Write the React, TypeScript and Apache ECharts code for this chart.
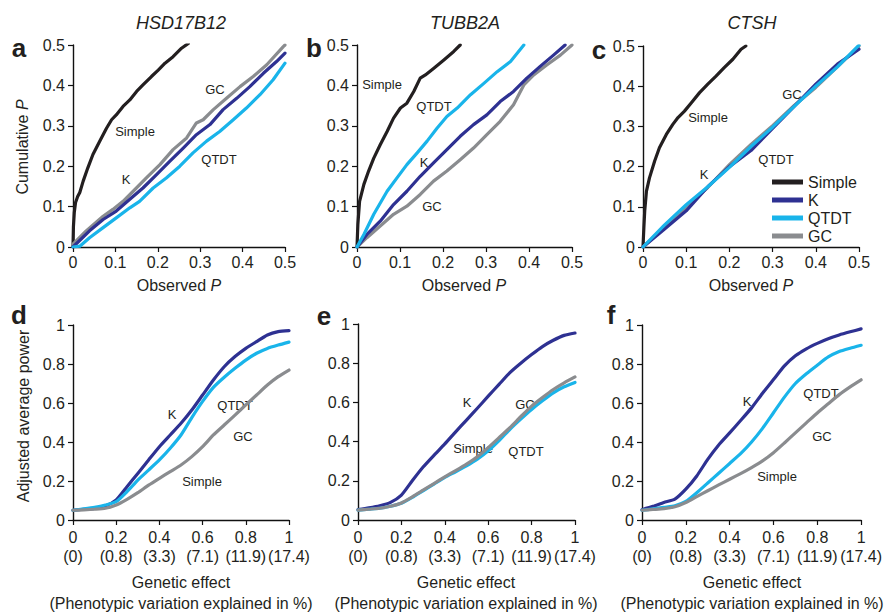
import React, { useEffect, useRef } from 'react';
import * as echarts from 'echarts';

const FONT = '"Liberation Sans", Arial, Helvetica, sans-serif';
const TXT = '#231f20';
const COL_SIMPLE = '#231f20';
const COL_K = '#2e3192';
const COL_QTDT = '#19b4ea';
const COL_GC = '#8a8c8f';

// ---- Panel a (HSD17B12): [observed P, cumulative P]
const aSimple = [[0,0],[0.001,0.05],[0.003,0.085],[0.006,0.11],[0.011,0.125],[0.016,0.135],[0.024,0.163],[0.035,0.196],[0.047,0.229],[0.063,0.262],[0.079,0.294],[0.091,0.315],[0.102,0.327],[0.118,0.348],[0.134,0.364],[0.15,0.385],[0.165,0.401],[0.185,0.422],[0.201,0.438],[0.217,0.455],[0.236,0.471],[0.256,0.492],[0.272,0.504]];
const aK = [[0,0],[0.039,0.04],[0.071,0.068],[0.102,0.089],[0.134,0.118],[0.165,0.146],[0.197,0.179],[0.228,0.212],[0.26,0.245],[0.291,0.278],[0.323,0.303],[0.354,0.34],[0.386,0.368],[0.417,0.397],[0.449,0.43],[0.48,0.459],[0.5,0.48]];
const aQTDT = [[0,0],[0.016,0.002],[0.039,0.023],[0.071,0.048],[0.102,0.072],[0.134,0.097],[0.157,0.113],[0.189,0.146],[0.22,0.171],[0.252,0.2],[0.283,0.233],[0.315,0.262],[0.346,0.286],[0.378,0.315],[0.409,0.344],[0.441,0.377],[0.472,0.414],[0.5,0.455]];
const aGC = [[0,0.007],[0.031,0.04],[0.071,0.076],[0.094,0.093],[0.118,0.113],[0.142,0.138],[0.173,0.171],[0.205,0.204],[0.236,0.241],[0.268,0.27],[0.291,0.307],[0.307,0.315],[0.331,0.34],[0.362,0.368],[0.394,0.397],[0.425,0.422],[0.457,0.451],[0.496,0.496],[0.5,0.5]];

// ---- Panel b (TUBB2A)
const bSimple = [[0,0],[0.002,0.056],[0.006,0.113],[0.016,0.155],[0.027,0.188],[0.039,0.22],[0.054,0.253],[0.07,0.286],[0.085,0.319],[0.101,0.344],[0.116,0.356],[0.132,0.385],[0.147,0.418],[0.159,0.426],[0.178,0.442],[0.202,0.463],[0.225,0.484],[0.24,0.5]];
const bK = [[0,0],[0.023,0.031],[0.054,0.064],[0.085,0.105],[0.116,0.138],[0.147,0.175],[0.178,0.208],[0.209,0.241],[0.24,0.274],[0.271,0.303],[0.302,0.327],[0.333,0.36],[0.364,0.385],[0.395,0.418],[0.426,0.447],[0.457,0.475],[0.484,0.5]];
const bQTDT = [[0,0],[0.016,0.031],[0.039,0.081],[0.07,0.138],[0.093,0.171],[0.116,0.204],[0.14,0.233],[0.163,0.262],[0.186,0.294],[0.209,0.323],[0.233,0.344],[0.264,0.377],[0.295,0.405],[0.326,0.434],[0.357,0.459],[0.388,0.5]];
const bGC = [[0,0],[0.023,0.023],[0.054,0.052],[0.085,0.081],[0.116,0.101],[0.147,0.13],[0.178,0.163],[0.209,0.188],[0.24,0.216],[0.271,0.245],[0.302,0.278],[0.333,0.311],[0.364,0.352],[0.388,0.401],[0.411,0.426],[0.442,0.451],[0.473,0.475],[0.5,0.5]];

// ---- Panel c (CTSH)
const cSimple = [[0,0],[0.002,0.048],[0.004,0.09],[0.008,0.139],[0.015,0.172],[0.027,0.214],[0.038,0.247],[0.054,0.28],[0.069,0.305],[0.081,0.322],[0.096,0.338],[0.112,0.359],[0.131,0.384],[0.15,0.405],[0.169,0.425],[0.188,0.446],[0.208,0.467],[0.227,0.492],[0.238,0.5]];
const cK = [[0,0],[0.05,0.045],[0.1,0.09],[0.15,0.15],[0.2,0.2],[0.25,0.24],[0.3,0.295],[0.35,0.35],[0.4,0.405],[0.45,0.455],[0.5,0.492]];
const cQTDT = [[0,0],[0.05,0.055],[0.1,0.105],[0.15,0.15],[0.2,0.198],[0.25,0.25],[0.3,0.298],[0.35,0.35],[0.4,0.4],[0.45,0.448],[0.5,0.502]];
const cGC = [[0,0],[0.05,0.05],[0.1,0.1],[0.15,0.148],[0.2,0.205],[0.25,0.255],[0.3,0.302],[0.35,0.352],[0.4,0.397],[0.45,0.448],[0.5,0.5]];

// ---- Panels d-f: adjusted average power vs genetic effect
const effect = [0, 0.05, 0.1, 0.15, 0.2, 0.25, 0.3, 0.35, 0.4, 0.45, 0.5, 0.55, 0.6, 0.65, 0.7, 0.75, 0.8, 0.85, 0.9, 0.95, 1];
const dK = [0.05, 0.055, 0.06, 0.072, 0.103, 0.171, 0.239, 0.308, 0.376, 0.436, 0.496, 0.564, 0.641, 0.718, 0.786, 0.838, 0.88, 0.915, 0.949, 0.966, 0.971];
const dQTDT = [0.05, 0.057, 0.065, 0.077, 0.094, 0.145, 0.205, 0.256, 0.308, 0.368, 0.436, 0.525, 0.608, 0.68, 0.732, 0.778, 0.82, 0.855, 0.88, 0.897, 0.912];
const dGC = [0.05, 0.052, 0.055, 0.06, 0.077, 0.106, 0.14, 0.179, 0.214, 0.248, 0.282, 0.325, 0.376, 0.436, 0.487, 0.538, 0.59, 0.641, 0.692, 0.735, 0.769];
const eK = [0.053, 0.062, 0.073, 0.09, 0.127, 0.2, 0.27, 0.33, 0.388, 0.45, 0.51, 0.57, 0.632, 0.692, 0.752, 0.8, 0.844, 0.885, 0.917, 0.942, 0.954];
const eQTDT = [0.05, 0.055, 0.06, 0.07, 0.085, 0.115, 0.149, 0.183, 0.217, 0.246, 0.276, 0.31, 0.353, 0.405, 0.463, 0.515, 0.564, 0.608, 0.649, 0.68, 0.702];
const eGC = [0.05, 0.055, 0.06, 0.07, 0.087, 0.118, 0.152, 0.186, 0.22, 0.252, 0.285, 0.322, 0.369, 0.42, 0.471, 0.527, 0.581, 0.625, 0.666, 0.7, 0.73];
const fK = [0.053, 0.07, 0.09, 0.107, 0.158, 0.226, 0.311, 0.385, 0.447, 0.51, 0.575, 0.65, 0.72, 0.79, 0.842, 0.878, 0.906, 0.93, 0.949, 0.965, 0.98];
const fQTDT = [0.05, 0.057, 0.065, 0.073, 0.095, 0.14, 0.19, 0.24, 0.29, 0.34, 0.4, 0.47, 0.55, 0.63, 0.7, 0.75, 0.794, 0.836, 0.864, 0.881, 0.896];
const fGC = [0.05, 0.054, 0.058, 0.068, 0.09, 0.12, 0.15, 0.18, 0.209, 0.238, 0.269, 0.303, 0.345, 0.395, 0.447, 0.498, 0.549, 0.596, 0.643, 0.683, 0.719];

const effectTicks = ['0', '0.2', '0.4', '0.6', '0.8', '1'];
const phenoTicks = ['(0)', '(0.8)', '(3.3)', '(7.1)', '(11.9)', '(17.4)'];
const genes = ['HSD17B12', 'TUBB2A', 'CTSH'];
const methods = ['Simple', 'K', 'QTDT', 'GC'];

const grids = [
  { left: 73, top: 45, width: 212, height: 202 },
  { left: 357, top: 45, width: 215, height: 202 },
  { left: 643, top: 46, width: 216, height: 201 },
  { left: 73, top: 325, width: 216, height: 195 },
  { left: 358, top: 324, width: 217, height: 196 },
  { left: 642, top: 325, width: 220, height: 195 },
];

function lineSeries(name: string, color: string, idx: number, data: number[][], z: number, smooth: number | boolean = false) {
  return {
    type: 'line', name, xAxisIndex: idx, yAxisIndex: idx, data,
    showSymbol: false, symbol: 'none', color, smooth,
    lineStyle: { color, width: 3.2, join: 'round', cap: 'round' },
    z, silent: true,
  };
}

const axisBase = {
  axisLine: { show: true, onZero: false, lineStyle: { color: '#111', width: 1.4 } },
  axisTick: { show: true, inside: false, length: 5, lineStyle: { color: '#111', width: 1.2 } },
  splitLine: { show: false },
  axisLabel: { color: TXT, fontSize: 16, fontFamily: FONT, margin: 7 },
};

function txt(text: string, x: number, y: number, size: number, extra: any = {}) {
  return {
    type: 'text', x, y, silent: true,
    style: { text, fill: TXT, fontSize: size, fontFamily: FONT, textAlign: 'center', textVerticalAlign: 'middle', ...extra },
  };
}

function richItalicP(prefix: string, x: number, y: number, rot = 0) {
  return {
    type: 'text', x, y, rotation: rot, silent: true,
    style: {
      text: `{n|${prefix}}{i|P}`, fill: TXT, textAlign: 'center', textVerticalAlign: 'middle',
      fontSize: 16, fontFamily: FONT,
      rich: {
        n: { fontSize: 16, fontFamily: FONT, fill: TXT },
        i: { fontSize: 16, fontFamily: FONT, fontStyle: 'italic', fill: TXT },
      },
    },
  };
}

export default function App() {
  const ref = useRef<HTMLDivElement>(null);
  useEffect(() => {
    if (!ref.current) return;
    const chart = echarts.init(ref.current, undefined, { renderer: 'svg' });
    const top = [
      [aSimple, aK, aQTDT, aGC],
      [bSimple, bK, bQTDT, bGC],
      [cSimple, cK, cQTDT, cGC],
    ];
    const bottom = [
      [dK, dQTDT, dGC],
      [eK, eQTDT, eGC],
      [fK, fQTDT, fGC],
    ];
    const series: any[] = [];
    top.forEach((set, i) => {
      series.push(lineSeries(methods[0], COL_SIMPLE, i, set[0], 2));
      series.push(lineSeries(methods[1], COL_K, i, set[1], 3));
      series.push(lineSeries(methods[2], COL_QTDT, i, set[2], 4));
      series.push(lineSeries(methods[3], COL_GC, i, set[3], 2));
    });
    bottom.forEach((set, j) => {
      const i = j + 3;
      series.push(lineSeries(methods[1], COL_K, i, effect.map((x, k) => [x, set[0][k]]), 3, 0.2));
      series.push(lineSeries(methods[2], COL_QTDT, i, effect.map((x, k) => [x, set[1][k]]), 4, 0.2));
      series.push(lineSeries(methods[3], COL_GC, i, effect.map((x, k) => [x, set[2][k]]), 5, 0.2));
    });

    const xAxis: any[] = [];
    const yAxis: any[] = [];
    for (let i = 0; i < 3; i++) {
      xAxis.push({ ...axisBase, type: 'value', gridIndex: i, min: 0, max: 0.5, interval: 0.1,
        axisLabel: { ...axisBase.axisLabel, formatter: (v: number) => String(+v.toFixed(1)) } });
      yAxis.push({ ...axisBase, type: 'value', gridIndex: i, min: 0, max: 0.5, interval: 0.1,
        axisLabel: { ...axisBase.axisLabel, margin: 8, formatter: (v: number) => String(+v.toFixed(1)) } });
    }
    for (let i = 3; i < 6; i++) {
      xAxis.push({ ...axisBase, type: 'value', gridIndex: i, min: 0, max: 1, interval: 0.2,
        axisLabel: { ...axisBase.axisLabel, lineHeight: 19, margin: 8,
          formatter: (v: number) => { const k = Math.round(v / 0.2); return effectTicks[k] + '\n' + phenoTicks[k]; } } });
      yAxis.push({ ...axisBase, type: 'value', gridIndex: i, min: 0, max: 1, interval: 0.2,
        axisLabel: { ...axisBase.axisLabel, margin: 8, formatter: (v: number) => String(+v.toFixed(1)) } });
    }

    const graphic: any[] = [
      txt(genes[0], 181, 23, 18, { fontStyle: 'italic' }),
      txt(genes[1], 465, 23, 18, { fontStyle: 'italic' }),
      txt(genes[2], 752, 23, 18, { fontStyle: 'italic' }),
      txt('a', 19, 48, 26, { fontWeight: 'bold' }),
      txt('b', 314, 48, 26, { fontWeight: 'bold' }),
      txt('c', 599, 50, 26, { fontWeight: 'bold' }),
      txt('d', 19, 315, 26, { fontWeight: 'bold' }),
      txt('e', 324, 316, 26, { fontWeight: 'bold' }),
      txt('f', 611, 315, 26, { fontWeight: 'bold' }),
      richItalicP('Cumulative ', 22, 147, Math.PI / 2),
      richItalicP('Observed ', 179, 285),
      richItalicP('Observed ', 464, 285),
      richItalicP('Observed ', 751, 285),
      { ...txt('Adjusted average power', 23, 416, 16), rotation: Math.PI / 2 },
      txt('Genetic effect', 181, 582, 16),
      txt('Genetic effect', 466, 582, 16),
      txt('Genetic effect', 752, 582, 16),
      txt('(Phenotypic variation explained in %)', 181, 603, 16),
      txt('(Phenotypic variation explained in %)', 466, 603, 16),
      txt('(Phenotypic variation explained in %)', 752, 603, 16),
      txt('Simple', 135, 131, 13), txt('GC', 215, 89, 13), txt('QTDT', 219, 159, 13), txt('K', 126, 179, 13),
      txt('Simple', 382, 84, 13), txt('QTDT', 434, 106, 13), txt('K', 424, 162, 13), txt('GC', 432, 206, 13),
      txt('Simple', 708, 117, 13), txt('GC', 792, 94, 13), txt('QTDT', 776, 159, 13), txt('K', 704, 174, 13),
      txt('K', 172, 414, 13), txt('QTDT', 235, 405, 13), txt('GC', 243, 436, 13), txt('Simple', 202, 481, 13),
      txt('K', 467, 402, 13), txt('GC', 525, 404, 13), txt('Simple', 473, 448, 13), txt('QTDT', 526, 451, 13),
      txt('K', 747, 401, 13), txt('QTDT', 821, 393, 13), txt('GC', 822, 436, 13), txt('Simple', 777, 476, 13),
    ];

    chart.setOption({
      animation: false,
      backgroundColor: '#ffffff',
      grid: grids.map((g) => ({ ...g, containLabel: false })),
      xAxis,
      yAxis,
      series,
      legend: {
        data: methods, orient: 'vertical', left: 772, top: 174,
        icon: 'rect', itemWidth: 31, itemHeight: 5, itemGap: 2,
        selectedMode: false, padding: 0,
        textStyle: { color: TXT, fontSize: 16, fontFamily: FONT, lineHeight: 16 },
      },
      graphic,
    });
    return () => chart.dispose();
  }, []);
  return <div ref={ref} style={{ position: 'absolute', left: 0, top: 0, width: 885, height: 613 }} />;
}
